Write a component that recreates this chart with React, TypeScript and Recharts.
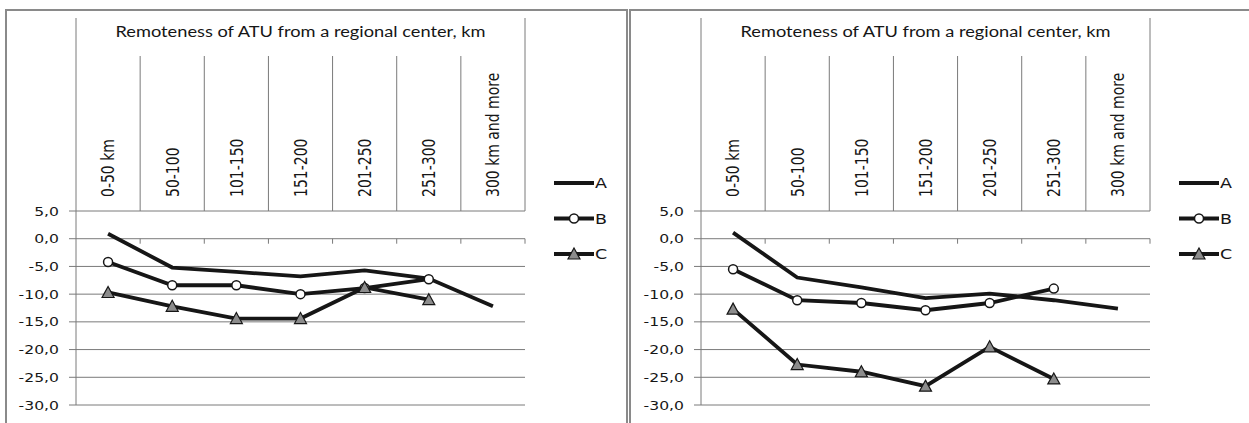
import React from 'react';
import { LineChart, Line, XAxis, YAxis, CartesianGrid } from 'recharts';

const CATEGORIES = ['0-50 km', '50-100', '101-150', '151-200', '201-250', '251-300', '300 km and more'];
const TITLE = 'Remoteness of ATU from a regional center, km';
const SERIES_NAMES = ['A', 'B', 'C'];
const Y_TICKS = [5, 0, -5, -10, -15, -20, -25, -30];

// left panel
const LEFT_A = [0.9, -5.2, -6.0, -6.8, -5.7, -7.2, -12.2];
const LEFT_B = [-4.2, -8.4, -8.4, -10.0, -8.9, -7.3, null];
const LEFT_C = [-9.7, -12.2, -14.4, -14.4, -8.8, -11.0, null];

// right panel
const RIGHT_A = [1.1, -7.0, -8.8, -10.7, -9.9, -11.1, -12.6];
const RIGHT_B = [-5.5, -11.1, -11.6, -12.9, -11.6, -9.0, null];
const RIGHT_C = [-12.7, -22.7, -24.0, -26.6, -19.5, -25.3, null];

const CHART_H = 423;
const HEADER_TOP = 18;
const DIVIDER_TOP = 56;
const PLOT_TOP = 211;
const PLOT_BOTTOM = 405;
const PLOT_W = 449;
const BAND = PLOT_W / CATEGORIES.length;
const ZERO_Y = PLOT_TOP + ((PLOT_BOTTOM - PLOT_TOP) * 5) / 35;
const GRID = '#7a7a7a';
const INK = '#161616';
// the source picture is stretched sideways, so text is too
const STRETCH = 1.25;

type Val = number | null;

function buildRows(a: Val[], b: Val[], c: Val[]) {
  return CATEGORIES.map((cat, i) => ({ x: i + 0.5, cat, A: a[i], B: b[i], C: c[i] }));
}

const fmt = (v: number) => v.toFixed(1).replace('.', ',');

function HeaderTick(props: any) {
  const cx = Number(props.x);
  const i = Number(props.index);
  const left = cx - BAND / 2;
  const right = cx + BAND / 2;
  const last = i === CATEGORIES.length - 1;
  return (
    <g>
      {i === 0 && (
        <>
          <line x1={left} x2={left} y1={HEADER_TOP} y2={PLOT_TOP} stroke={GRID} />
          <text
            x={left + PLOT_W / 2}
            y={37}
            textAnchor="middle"
            fontFamily="Lato"
            fontSize={14.5}
            fill={INK}
            textLength={370}
            lengthAdjust="spacingAndGlyphs"
          >
            {TITLE}
          </text>
        </>
      )}
      <line x1={right} x2={right} y1={last ? HEADER_TOP : DIVIDER_TOP} y2={PLOT_TOP} stroke={GRID} />
      <line x1={right} x2={right} y1={ZERO_Y} y2={ZERO_Y + 5} stroke={GRID} />
      <text
        transform={`translate(${cx},197) scale(${STRETCH},1) rotate(-90)`}
        textAnchor="start"
        dy="0.36em"
        fontFamily="DejaVu Sans"
        fontSize={14}
        fill={INK}
      >
        {CATEGORIES[i]}
      </text>
    </g>
  );
}

function YTick(props: any) {
  const { x, y, payload } = props;
  return (
    <text
      transform={`translate(${x},${y}) scale(${STRETCH},1)`}
      textAnchor="end"
      dy="0.36em"
      fontFamily="DejaVu Sans"
      fontSize={12.5}
      fill={INK}
    >
      {fmt(Number(payload.value))}
    </text>
  );
}

function circleDot(p: any) {
  if (p.cx == null || p.cy == null || p.value == null) return <g key={p.index} />;
  return <circle key={p.index} cx={p.cx} cy={p.cy} r={4.5} fill="#fff" stroke={INK} strokeWidth={1.5} />;
}

function triangleDot(p: any) {
  if (p.cx == null || p.cy == null || p.value == null) return <g key={p.index} />;
  const { cx, cy } = p;
  return (
    <path
      key={p.index}
      d={`M${cx},${cy - 6} L${cx + 6},${cy + 5} L${cx - 6},${cy + 5} Z`}
      fill="#8c8c8c"
      stroke={INK}
      strokeWidth={1.2}
    />
  );
}

function LegendBox({ left }: { left: number }) {
  return (
    <svg width={70} height={100} style={{ position: 'absolute', left, top: 168 }}>
      {SERIES_NAMES.map((name, i) => {
        const y = 15 + i * 35.5;
        return (
          <g key={name}>
            <line x1={1} x2={41} y1={y} y2={y} stroke={INK} strokeWidth={4} />
            {i === 1 && circleDot({ cx: 21, cy: y, value: 1, index: 'lg' })}
            {i === 2 && triangleDot({ cx: 21, cy: y, value: 1, index: 'lg' })}
            <text
              transform={`translate(42,${y}) scale(${STRETCH},1)`}
              dy="0.36em"
              fontFamily="DejaVu Sans"
              fontSize={14}
              fill={INK}
            >
              {name}
            </text>
          </g>
        );
      })}
    </svg>
  );
}

function Panel({ rows, left, width, marginLeft }: { rows: any[]; left: number; width: number; marginLeft: number }) {
  const marginRight = width - marginLeft - 60 - PLOT_W;
  return (
    <>
      <div style={{ position: 'absolute', left, top: 0 }}>
        <LineChart
          width={width}
          height={CHART_H}
          data={rows}
          margin={{ top: HEADER_TOP, right: marginRight, bottom: CHART_H - PLOT_BOTTOM, left: marginLeft }}
        >
          <CartesianGrid xAxisId="top" vertical={false} stroke={GRID} />
          <XAxis
            xAxisId="top"
            orientation="top"
            type="number"
            dataKey="x"
            domain={[0, CATEGORIES.length]}
            ticks={CATEGORIES.map((_, i) => i + 0.5)}
            interval={0}
            height={PLOT_TOP - HEADER_TOP}
            axisLine={false}
            tickLine={false}
            tick={HeaderTick}
          />
          <YAxis
            type="number"
            domain={[-30, 5]}
            ticks={Y_TICKS}
            interval={0}
            width={60}
            axisLine={{ stroke: GRID }}
            tickLine={{ stroke: GRID }}
            tickSize={7}
            tickMargin={10}
            tick={YTick}
          />
          <Line xAxisId="top" dataKey="A" stroke={INK} strokeWidth={3.8} dot={false} isAnimationActive={false} />
          <Line xAxisId="top" dataKey="B" stroke={INK} strokeWidth={3.8} dot={circleDot} isAnimationActive={false} />
          <Line xAxisId="top" dataKey="C" stroke={INK} strokeWidth={3.8} dot={triangleDot} isAnimationActive={false} />
        </LineChart>
      </div>
      <LegendBox left={left + marginLeft + 60 + PLOT_W + 28} />
    </>
  );
}

export default function App() {
  return (
    <div
      style={{
        position: 'absolute',
        left: 0,
        top: 0,
        width: 1249,
        height: 423,
        overflow: 'hidden',
        background: '#fff',
      }}
    >
      <div
        style={{
          position: 'absolute',
          left: 5,
          top: 9,
          width: 623,
          height: 430,
          boxSizing: 'border-box',
          border: '2px solid #8a8a8a',
        }}
      />
      <div
        style={{
          position: 'absolute',
          left: 629,
          top: 9,
          width: 640,
          height: 430,
          boxSizing: 'border-box',
          border: '2px solid #8a8a8a',
        }}
      />
      <Panel rows={buildRows(LEFT_A, LEFT_B, LEFT_C)} left={0} width={628} marginLeft={16} />
      <Panel rows={buildRows(RIGHT_A, RIGHT_B, RIGHT_C)} left={630} width={619} marginLeft={11} />
    </div>
  );
}
